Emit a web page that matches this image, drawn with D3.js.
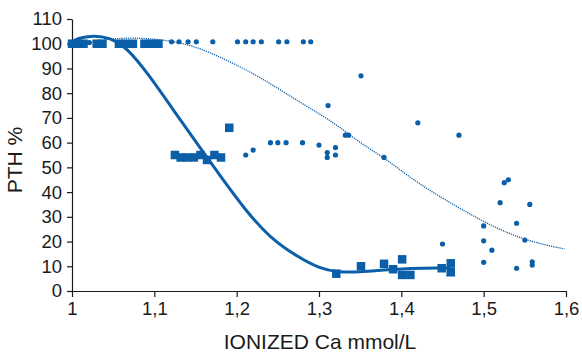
<!DOCTYPE html>
<html>
<head>
<meta charset="utf-8">
<script src="https://cdn.jsdelivr.net/npm/d3@7"></script>
<style>
  html, body { margin: 0; padding: 0; background: #fff; }
  svg { display: block; }
  .axis text { font-family: "Liberation Sans", Arial, Helvetica, sans-serif; font-size: 18.5px; fill: #1a1a1a; }
  .axis path, .axis line { stroke: #1a1a1a; stroke-width: 1.2px; }
  .title { font-family: "Liberation Sans", Arial, Helvetica, sans-serif; font-size: 21px; fill: #1a1a1a; }
</style>
</head>
<body>
<script>
// ---- data ----
const xTicks = [1, 1.1, 1.2, 1.3, 1.4, 1.5, 1.6];
const xTickLabels = ["1", "1,1", "1,2", "1,3", "1,4", "1,5", "1,6"];
const yTicks = [0, 10, 20, 30, 40, 50, 60, 70, 80, 90, 100, 110];

// squares series: [ionized Ca, PTH %]
const squareX = [1.0, 1.007, 1.014, 1.03, 1.037, 1.057, 1.065, 1.074, 1.088, 1.096, 1.105,
                 1.125, 1.132, 1.14, 1.148, 1.156, 1.164, 1.173, 1.181, 1.191,
                 1.321, 1.351, 1.379, 1.39, 1.401, 1.401, 1.411, 1.449, 1.46, 1.46];
const squareY = [100, 100, 100, 100, 100, 100, 100, 100, 100, 100, 100,
                 55, 54, 54, 54, 55, 53, 55, 54, 66,
                 7, 10, 11, 8.8, 12.8, 6.5, 6.5, 9.2, 11.2, 7.8];

// dots series
const dotX = [1.021, 1.121, 1.130, 1.141, 1.151, 1.171, 1.201, 1.211, 1.22, 1.23, 1.251, 1.261, 1.281, 1.29,
              1.211, 1.22, 1.241, 1.25, 1.26, 1.28, 1.3, 1.31, 1.31, 1.32, 1.32, 1.332, 1.336,
              1.351, 1.311, 1.379, 1.42, 1.47, 1.45,
              1.525, 1.53, 1.52, 1.556, 1.5, 1.54, 1.55, 1.5, 1.51, 1.5, 1.54, 1.559, 1.559];
const dotY = [100.5, 100.8, 100.8, 100.8, 100.8, 100.8, 100.8, 100.8, 100.8, 100.8, 100.8, 100.8, 100.8, 100.8,
              55, 57, 60, 60, 60, 60, 59, 56, 54, 58, 55, 63, 63,
              87, 75, 54, 68, 63, 19,
              43.8, 45, 35.7, 35, 26.3, 27.4, 20.6, 20.3, 16.5, 11.6, 9.2, 11.8, 10.5];

// triangle marker
const triX = [1.46];
const triY = [7];

// fitted curve for squares (thick)
const fitSqX = [1.0, 1.006, 1.026, 1.045, 1.066, 1.095, 1.123, 1.156, 1.182, 1.21, 1.24, 1.277, 1.30, 1.321, 1.35, 1.378, 1.41, 1.447, 1.459];
const fitSqY = [100.5, 102.2, 103.4, 102.5, 98.8, 86.7, 73.2, 57.8, 45.6, 33, 21.5, 13.2, 9.3, 7.6, 7.6, 8.5, 9.2, 9.4, 9.3];

// fitted curve for dots (thin dotted)
const fitDotX = [1.0, 1.02, 1.046, 1.075, 1.107, 1.147, 1.188, 1.228, 1.277, 1.317, 1.349, 1.379, 1.41, 1.44, 1.471, 1.511, 1.552, 1.598];
const fitDotY = [98.5, 100.5, 102.0, 102.4, 101.8, 99.5, 93.4, 86.7, 76.2, 68.5, 60, 54, 46, 39.5, 33.4, 26, 20.3, 17];

// ---- drawing ----
const W = 582, H = 352;
const blue = "#0a5fa8";
const svg = d3.select("body").append("svg").attr("width", W).attr("height", H);

const x = d3.scaleLinear().domain([1, 1.6]).range([72, 566]);
const y = d3.scaleLinear().domain([0, 110]).range([291, 19]);

const xAxis = d3.axisBottom(x).tickValues(xTicks)
  .tickFormat((d, i) => xTickLabels[i]).tickSize(6).tickSizeOuter(0).tickPadding(5);
const yAxis = d3.axisLeft(y).tickValues(yTicks).tickSize(5).tickSizeOuter(0).tickPadding(5);

svg.append("g").attr("class", "axis").attr("transform", `translate(0,${y(0)})`).call(xAxis);
svg.append("g").attr("class", "axis").attr("transform", `translate(${x(1)},0)`).call(yAxis);

svg.append("text").attr("class", "title")
  .attr("x", 320).attr("y", 349).attr("text-anchor", "middle")
  .text("IONIZED Ca mmol/L");
svg.append("text").attr("class", "title")
  .attr("transform", `translate(22,160) rotate(-90)`).attr("text-anchor", "middle")
  .text("PTH %");

const line = d3.line().x(d => x(d[0])).y(d => y(d[1])).curve(d3.curveBasis);

svg.append("path")
  .datum(fitDotX.map((v, i) => [v, fitDotY[i]]))
  .attr("d", line).attr("fill", "none").attr("stroke", blue)
  .attr("stroke-width", 1.3).attr("stroke-dasharray", "1.2,1");

const sqSize = 8.5;
svg.append("g").selectAll("rect")
  .data(squareX.map((v, i) => [v, squareY[i]]))
  .join("rect")
  .attr("x", d => x(d[0]) - sqSize / 2).attr("y", d => y(d[1]) - sqSize / 2)
  .attr("width", sqSize).attr("height", sqSize).attr("fill", blue);

svg.append("g").selectAll("circle")
  .data(dotX.map((v, i) => [v, dotY[i]]))
  .join("circle")
  .attr("cx", d => x(d[0])).attr("cy", d => y(d[1])).attr("r", 2.6).attr("fill", blue);

svg.append("g").selectAll("path")
  .data(triX.map((v, i) => [v, triY[i]]))
  .join("path")
  .attr("d", d3.symbol().type(d3.symbolTriangle).size(40))
  .attr("transform", d => `translate(${x(d[0])},${y(d[1])})`).attr("fill", blue);

svg.append("path")
  .datum(fitSqX.map((v, i) => [v, fitSqY[i]]))
  .attr("d", line).attr("fill", "none").attr("stroke", blue)
  .attr("stroke-width", 3);
</script>
</body>
</html>
